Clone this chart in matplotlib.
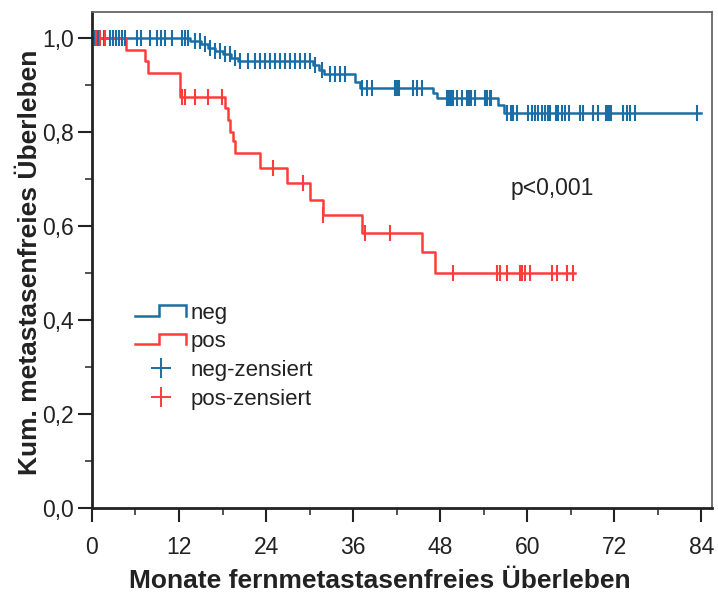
import numpy as np
import matplotlib
matplotlib.use('Agg')
import matplotlib.pyplot as plt
from matplotlib import font_manager
from matplotlib.lines import Line2D
from matplotlib.legend_handler import HandlerBase

# neg group: event times (months) and survival after each step
negTimes = [13.5, 15.0, 16.0, 17.0, 18.0, 19.2, 20.2, 30.5, 31.3, 32.0, 36.2, 37.0, 47.0, 47.5, 56.0, 56.8]
negSurv = [0.993, 0.986, 0.979, 0.972, 0.965, 0.958, 0.951, 0.942, 0.932, 0.922, 0.905, 0.894, 0.883, 0.872, 0.856, 0.840]
negEnd = 84.0
negCensored = [0.4, 0.8, 1.7, 2.5, 2.9, 3.3, 3.7, 4.1, 4.6, 6.2, 6.8, 8.0, 9.0, 9.5, 10.1, 11.0,
               12.4, 12.8, 13.2, 14.2, 14.9, 15.6, 16.3, 17.0, 17.7, 18.3, 19.0, 19.7,
               20.4, 21.5, 22.5, 23.2, 23.9, 24.6, 25.2, 25.9, 26.6, 27.3, 28.0, 28.7, 29.4, 30.1, 30.8,
               31.7, 32.8, 33.5, 34.2, 34.9,
               37.2, 37.9, 38.6, 41.8, 42.1, 42.3, 44.3, 44.8, 45.5,
               49.0, 49.2, 49.5, 49.8, 50.3, 51.0, 51.7, 52.0, 52.3, 52.8, 54.2, 54.5, 54.8, 55.0,
               57.2, 57.7, 58.1, 58.6, 60.1, 60.7, 61.1, 61.5, 62.1, 62.5, 62.9, 63.2, 63.9, 64.3,
               64.8, 65.2, 65.7, 67.3, 67.7, 69.1, 69.7, 70.8, 71.0, 71.3, 71.6, 73.2, 73.8, 74.2,
               74.9, 83.4]

# pos group
posTimes = [4.7, 7.3, 7.7, 12.1, 18.3, 18.8, 19.1, 19.4, 19.7, 23.2, 26.9, 30.1, 31.9, 37.2, 45.5, 47.3]
posSurv = [0.975, 0.95, 0.925, 0.875, 0.85, 0.825, 0.80, 0.78, 0.755, 0.723, 0.69, 0.655, 0.623, 0.584, 0.544, 0.499]
posEnd = 66.6
posCensored = [0.5, 1.1, 1.8, 12.4, 12.8, 14.2, 16.0, 17.9, 25.0, 29.1, 31.9, 37.7, 41.1,
               49.7, 55.9, 56.3, 57.2, 59.0, 59.3, 59.7, 60.4, 63.4, 64.1, 65.5, 66.3]

xTicks = [0, 12, 24, 36, 48, 60, 72, 84]
yTicks = [0.0, 0.2, 0.4, 0.6, 0.8, 1.0]
yTickLabels = ['0,0', '0,2', '0,4', '0,6', '0,8', '1,0']
legendLabels = ['neg', 'pos', 'neg-zensiert', 'pos-zensiert']

blue = '#1a6ea5'
red = '#ff3c3c'

try:
    font_manager.findfont('Liberation Sans Narrow', fallback_to_default=False)
    labelFont, labelSize = 'Liberation Sans Narrow', 23
except ValueError:
    labelFont, labelSize = 'Liberation Sans', 19

plt.rcParams['font.family'] = ['Liberation Sans', 'DejaVu Sans']


def stepCurve(times, surv, end):
    t = [0.0] + list(times) + [end]
    s = [1.0] + list(surv) + [surv[-1]]
    return t, s


def survAt(times, surv, points):
    s = np.array([1.0] + list(surv))
    idx = np.searchsorted(np.array(times), np.array(points), side='right')
    return s[idx]


class StepHandler(HandlerBase):
    # small step icon like in SPSS legends
    def create_artists(self, legend, orig_handle, xdescent, ydescent, width, height, fontsize, trans):
        x0 = -xdescent
        y0 = -ydescent
        lo = y0 + 0.2 * height
        hi = y0 + 0.85 * height
        xs = [x0, x0 + 0.47 * width, x0 + 0.47 * width, x0 + width, x0 + width]
        ys = [lo, lo, hi, hi, lo]
        line = Line2D(xs, ys, color=orig_handle.get_color(), lw=orig_handle.get_linewidth(),
                      transform=trans, solid_joinstyle='miter')
        return [line]


fig = plt.figure(figsize=(7.18, 5.96), dpi=100)
ax = fig.add_axes([0.128, 0.148, 0.864, 0.832])

t, s = stepCurve(negTimes, negSurv, negEnd)
negLine, = ax.step(t, s, where='post', color=blue, lw=1.8)
t, s = stepCurve(posTimes, posSurv, posEnd)
posLine, = ax.step(t, s, where='post', color=red, lw=1.8)

ax.plot(negCensored, survAt(negTimes, negSurv, negCensored), linestyle='none',
        marker='|', markersize=12, mew=1.5, color=blue)
ax.plot(posCensored, survAt(posTimes, posSurv, posCensored), linestyle='none',
        marker='|', markersize=12, mew=1.5, color=red)

ax.set_xlim(0, 85.5)
ax.set_ylim(0, 1.055)
ax.set_xticks(xTicks)
ax.set_xticks([x + 6 for x in xTicks[:-1]], minor=True)
ax.set_yticks(yTicks)
ax.set_yticklabels(yTickLabels)
ax.set_yticks([y + 0.1 for y in yTicks[:-1]], minor=True)
ax.tick_params(axis='both', which='major', labelsize=16.5, length=10, width=1.5, direction='out', colors='#222222')
ax.tick_params(axis='both', which='minor', length=5, width=1.3, direction='out', colors='#444444')
ax.tick_params(axis='x', which='major', pad=10)
ax.tick_params(axis='y', which='major', pad=3)

for side in ['left', 'bottom']:
    ax.spines[side].set_linewidth(2)
    ax.spines[side].set_color('#222222')
for side in ['top', 'right']:
    ax.spines[side].set_linewidth(1.3)
    ax.spines[side].set_color('#666666')

ax.text(57.7, 0.68, 'p<0,001', fontsize=16.5, ha='left', va='center', color='#222222')

fig.text(0.529, 0.025, 'Monate fernmetastasenfreies Überleben', fontsize=labelSize,
         fontweight='bold', family=[labelFont, 'DejaVu Sans'], ha='center', va='center', color='#222222')
fig.text(0.042, 0.56, 'Kum. metastasenfreies Überleben', fontsize=labelSize, rotation=90,
         fontweight='bold', family=[labelFont, 'DejaVu Sans'], ha='center', va='center', color='#222222')

negMark = Line2D([], [], linestyle='none', marker='+', markersize=14, mew=1.4, color=blue)
posMark = Line2D([], [], linestyle='none', marker='+', markersize=14, mew=1.4, color=red)
leg = ax.legend([negLine, posLine, negMark, posMark], legendLabels,
                handler_map={negLine: StepHandler(), posLine: StepHandler()},
                loc='upper left', bbox_to_anchor=(0.052, 0.436), frameon=False,
                fontsize=16, handlelength=2.3, handletextpad=0.2, labelspacing=0.35,
                borderpad=0, numpoints=1)
for txt in leg.get_texts():
    txt.set_color('#222222')

fig.savefig('out.png', dpi=100)
